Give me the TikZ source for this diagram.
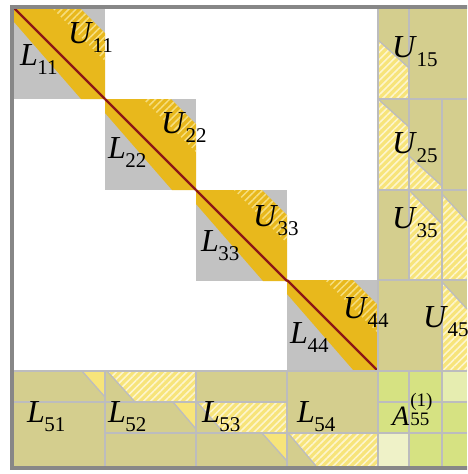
\documentclass[tikz,border=0pt]{standalone}
\usepackage{fontspec}
\setmainfont{Liberation Serif}
\usetikzlibrary{patterns.meta}
\definecolor{blkgray}{RGB}{194,194,194}
\definecolor{bandc}{RGB}{232,184,28}
\definecolor{bandhatch}{RGB}{246,222,128}
\definecolor{diagred}{RGB}{140,22,22}
\definecolor{olivec}{RGB}{212,206,142}
\definecolor{lyel}{RGB}{247,228,122}
\definecolor{lyelhatch}{RGB}{253,245,205}
\definecolor{gridc}{RGB}{188,188,190}
\definecolor{greena}{RGB}{214,226,130}
\definecolor{greenb}{RGB}{230,237,176}
\definecolor{greenc}{RGB}{239,242,200}
\definecolor{framec}{RGB}{135,135,135}
\newcommand\lbl[2]{\textit{#1}\kern-0.5pt\raisebox{-9pt}{\fontsize{21}{21}\selectfont #2}}
\newcommand\albl{\textit{A}\kern1pt\rlap{\raisebox{19pt}{\fontsize{19}{19}\selectfont (1)}}{\fontsize{19}{19}\selectfont 55}}
\begin{document}
\begin{tikzpicture}[x=1pt,y=-1pt,
  lab/.style={inner sep=0pt,anchor=base west,font=\fontsize{32}{32}\selectfont},
  gridl/.style={gridc,line width=2pt},
  edgel/.style={gridc,line width=1.3pt},
  hatchband/.style={pattern={Lines[angle=45,distance=5pt,line width=1.5pt]},pattern color=bandhatch},
  hatchy/.style={pattern={Lines[angle=45,distance=5pt,line width=1.6pt]},pattern color=lyelhatch}]
\useasboundingbox (0,0) rectangle (467,474);
\clip (0,0) rectangle (467,474);
\fill[white] (0,0) rectangle (467,474);
% diagonal blocks
\foreach \x/\y in {14/8,105/99,196/190,287/280}{
  \begin{scope}[shift={(\x,\y)}]
    \fill[blkgray] (0,0) rectangle (91,91);
    \fill[bandc] (0,0) -- (66,0) -- (91,25) -- (91,91) -- (67,91) -- (0,14) -- cycle;
    \fill[hatchband] (38,0) -- (66,0) -- (91,25) -- (91,53) -- cycle;
    \draw[diagred,line width=2.2pt] (0,0) -- (91,91);
  \end{scope}
}
% off-diagonal olive areas
\fill[olivec] (14,371) rectangle (378,466);
\fill[olivec] (378,6) rectangle (467,371);
% A55 cells
\fill[greena] (378,371) rectangle (467,466);
\fill[greenb] (442,371) rectangle (467,402);
\fill[greenc] (378,433) rectangle (409,466);
% bottom row yellow staircase
\fill[lyel] (82,371) -- (105,371) -- (105,397) -- cycle;
\draw[edgel] (82,371) -- (105,397);
\fill[lyel] (107,371) -- (196,371) -- (196,402) -- (135,402) -- cycle;
\fill[hatchy] (107,371) -- (196,371) -- (196,402) -- (135,402) -- cycle;
\draw[edgel] (107,371) -- (135,402);
\fill[lyel] (173,402) -- (196,402) -- (196,429) -- cycle;
\draw[edgel] (173,402) -- (196,429);
\fill[lyel] (197,402) -- (287,402) -- (287,433) -- (224,433) -- cycle;
\fill[hatchy] (197,402) -- (287,402) -- (287,433) -- (224,433) -- cycle;
\draw[edgel] (197,402) -- (224,433);
\fill[lyel] (262,433) -- (287,433) -- (287,461) -- cycle;
\draw[edgel] (262,433) -- (287,461);
\fill[lyel] (288,433) -- (378,433) -- (378,466) -- (316,466) -- cycle;
\fill[hatchy] (288,433) -- (378,433) -- (378,466) -- (316,466) -- cycle;
\draw[edgel] (288,433) -- (316,466);
% right column yellow staircase
\fill[lyel] (378,40) -- (409,68) -- (409,99) -- (378,99) -- cycle;
\fill[hatchy] (378,40) -- (409,68) -- (409,99) -- (378,99) -- cycle;
\draw[edgel] (378,40) -- (409,68);
\fill[lyel] (378,99) -- (409,127) -- (409,190) -- (378,190) -- cycle;
\fill[hatchy] (378,99) -- (409,127) -- (409,190) -- (378,190) -- cycle;
\draw[edgel] (378,99) -- (409,127);
\fill[lyel] (409,156) -- (442,186) -- (442,190) -- (409,190) -- cycle;
\fill[hatchy] (409,156) -- (442,186) -- (442,190) -- (409,190) -- cycle;
\draw[edgel] (409,156) -- (442,186);
\fill[lyel] (409,190) -- (442,224) -- (442,280) -- (409,280) -- cycle;
\fill[hatchy] (409,190) -- (442,224) -- (442,280) -- (409,280) -- cycle;
\draw[edgel] (409,190) -- (442,224);
\fill[lyel] (442,194) -- (467,221) -- (467,280) -- (442,280) -- cycle;
\fill[hatchy] (442,194) -- (467,221) -- (467,280) -- (442,280) -- cycle;
\draw[edgel] (442,194) -- (467,221);
\fill[lyel] (442,282) -- (467,309) -- (467,371) -- (442,371) -- cycle;
\fill[hatchy] (442,282) -- (467,309) -- (467,371) -- (442,371) -- cycle;
\draw[edgel] (442,282) -- (467,309);
% grid lines
\draw[gridl] (378,6) -- (378,466);
\draw[gridl] (14,371) -- (467,371);
\foreach \x in {105,196,287}{\draw[gridl] (\x,371) -- (\x,466);}
\draw[gridl] (14,402) -- (287,402);
\draw[gridl] (378,402) -- (467,402);
\draw[gridl] (105,433) -- (467,433);
\foreach \y in {99,190,280}{\draw[gridl] (378,\y) -- (467,\y);}
\draw[gridl] (409,6) -- (409,280);
\draw[gridl] (409,371) -- (409,466);
\draw[gridl] (442,99) -- (442,466);
% frame
\draw[framec,line width=4pt] (12,6.5) rectangle (490,468);
% labels
\node[lab] (U11) at (68,43) {\lbl{U}{11}};
\node[lab] (L11) at (20,65) {\lbl{L}{11}};
\node[lab] (U22) at (161,133) {\lbl{U}{22}};
\node[lab] (L22) at (108,158) {\lbl{L}{22}};
\node[lab] (U33) at (253,226) {\lbl{U}{33}};
\node[lab] (L33) at (201,251) {\lbl{L}{33}};
\node[lab] (U44) at (343,318) {\lbl{U}{44}};
\node[lab] (L44) at (290,343) {\lbl{L}{44}};
\node[lab] (U15) at (392,57) {\lbl{U}{15}};
\node[lab] (U25) at (392,153) {\lbl{U}{25}};
\node[lab] (U35) at (392,228) {\lbl{U}{35}};
\node[lab] (U45) at (423,327) {\lbl{U}{45}};
\node[lab] (L51) at (27,422) {\lbl{L}{51}};
\node[lab] (L52) at (108,422) {\lbl{L}{52}};
\node[lab] (L53) at (202,422) {\lbl{L}{53}};
\node[lab] (L54) at (297,422) {\lbl{L}{54}};
\node[lab,font=\fontsize{28}{28}\selectfont] (A55) at (392,425) {\albl};
\end{tikzpicture}
\end{document}
